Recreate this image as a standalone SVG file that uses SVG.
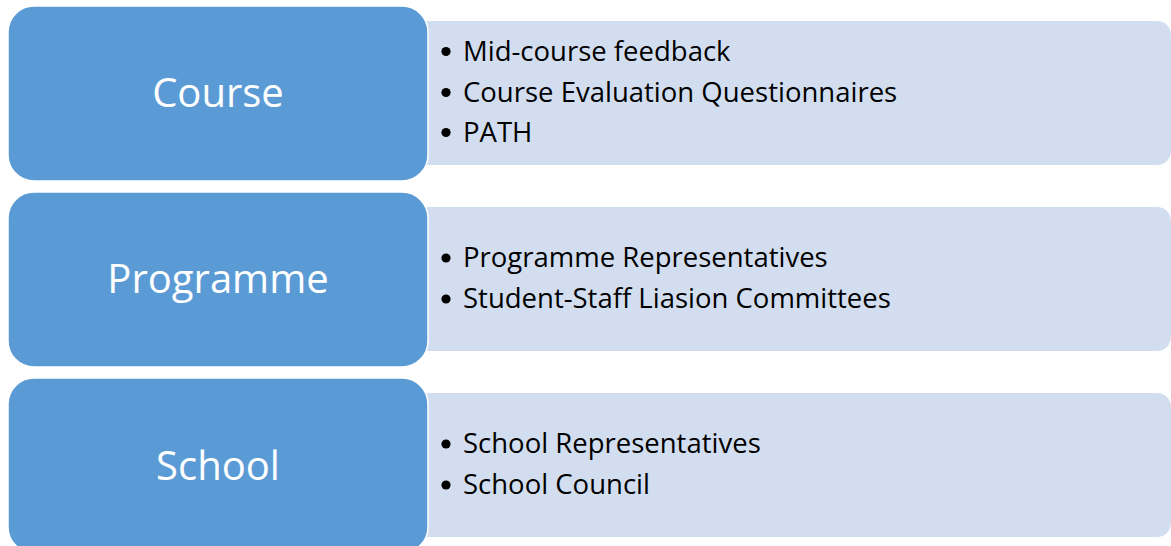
<svg xmlns="http://www.w3.org/2000/svg" width="1171" height="546" viewBox="0 0 1171 546">
<style>
.panel{fill:#D2DEEF;}
.box{fill:#5B9BD5;stroke:#FFFFFF;stroke-width:1.5;}
.lbl{font-family:"Open Sans","Liberation Sans",sans-serif;font-size:40px;fill:#FFFFFF;text-anchor:middle;}
.item{font-family:"Open Sans","Liberation Sans",sans-serif;font-size:27.5px;fill:#000000;}
.dot{fill:#000000;}
</style>
<rect width="1171" height="546" fill="#FFFFFF"/>
<g id="connectors"></g>
<g id="course">
<rect class="panel" x="410" y="21" width="761" height="144" rx="14"/>
<rect class="box" x="8" y="6" width="420" height="175" rx="26"/>
<text class="lbl" x="218" y="107">Course</text>
<circle class="dot" cx="446" cy="51.5" r="4.6"/><text class="item" x="463" y="61">Mid-course feedback</text>
<circle class="dot" cx="446" cy="92.5" r="4.6"/><text class="item" x="463" y="102">Course Evaluation Questionnaires</text>
<circle class="dot" cx="446" cy="132.5" r="4.6"/><text class="item" x="463" y="142">PATH</text>
</g>
<g id="programme">
<rect class="panel" x="410" y="207" width="761" height="144" rx="14"/>
<rect class="box" x="8" y="192" width="420" height="175" rx="26"/>
<text class="lbl" x="218" y="293">Programme</text>
<circle class="dot" cx="446" cy="258" r="4.6"/><text class="item" x="463" y="267">Programme Representatives</text>
<circle class="dot" cx="446" cy="299" r="4.6"/><text class="item" x="463" y="308">Student-Staff Liasion Committees</text>
</g>
<g id="school">
<rect class="panel" x="410" y="393" width="761" height="144" rx="14"/>
<rect class="box" x="8" y="378" width="420" height="175" rx="26"/>
<text class="lbl" x="218" y="480">School</text>
<circle class="dot" cx="446" cy="444" r="4.6"/><text class="item" x="463" y="453">School Representatives</text>
<circle class="dot" cx="446" cy="485" r="4.6"/><text class="item" x="463" y="494">School Council</text>
</g>
</svg>
